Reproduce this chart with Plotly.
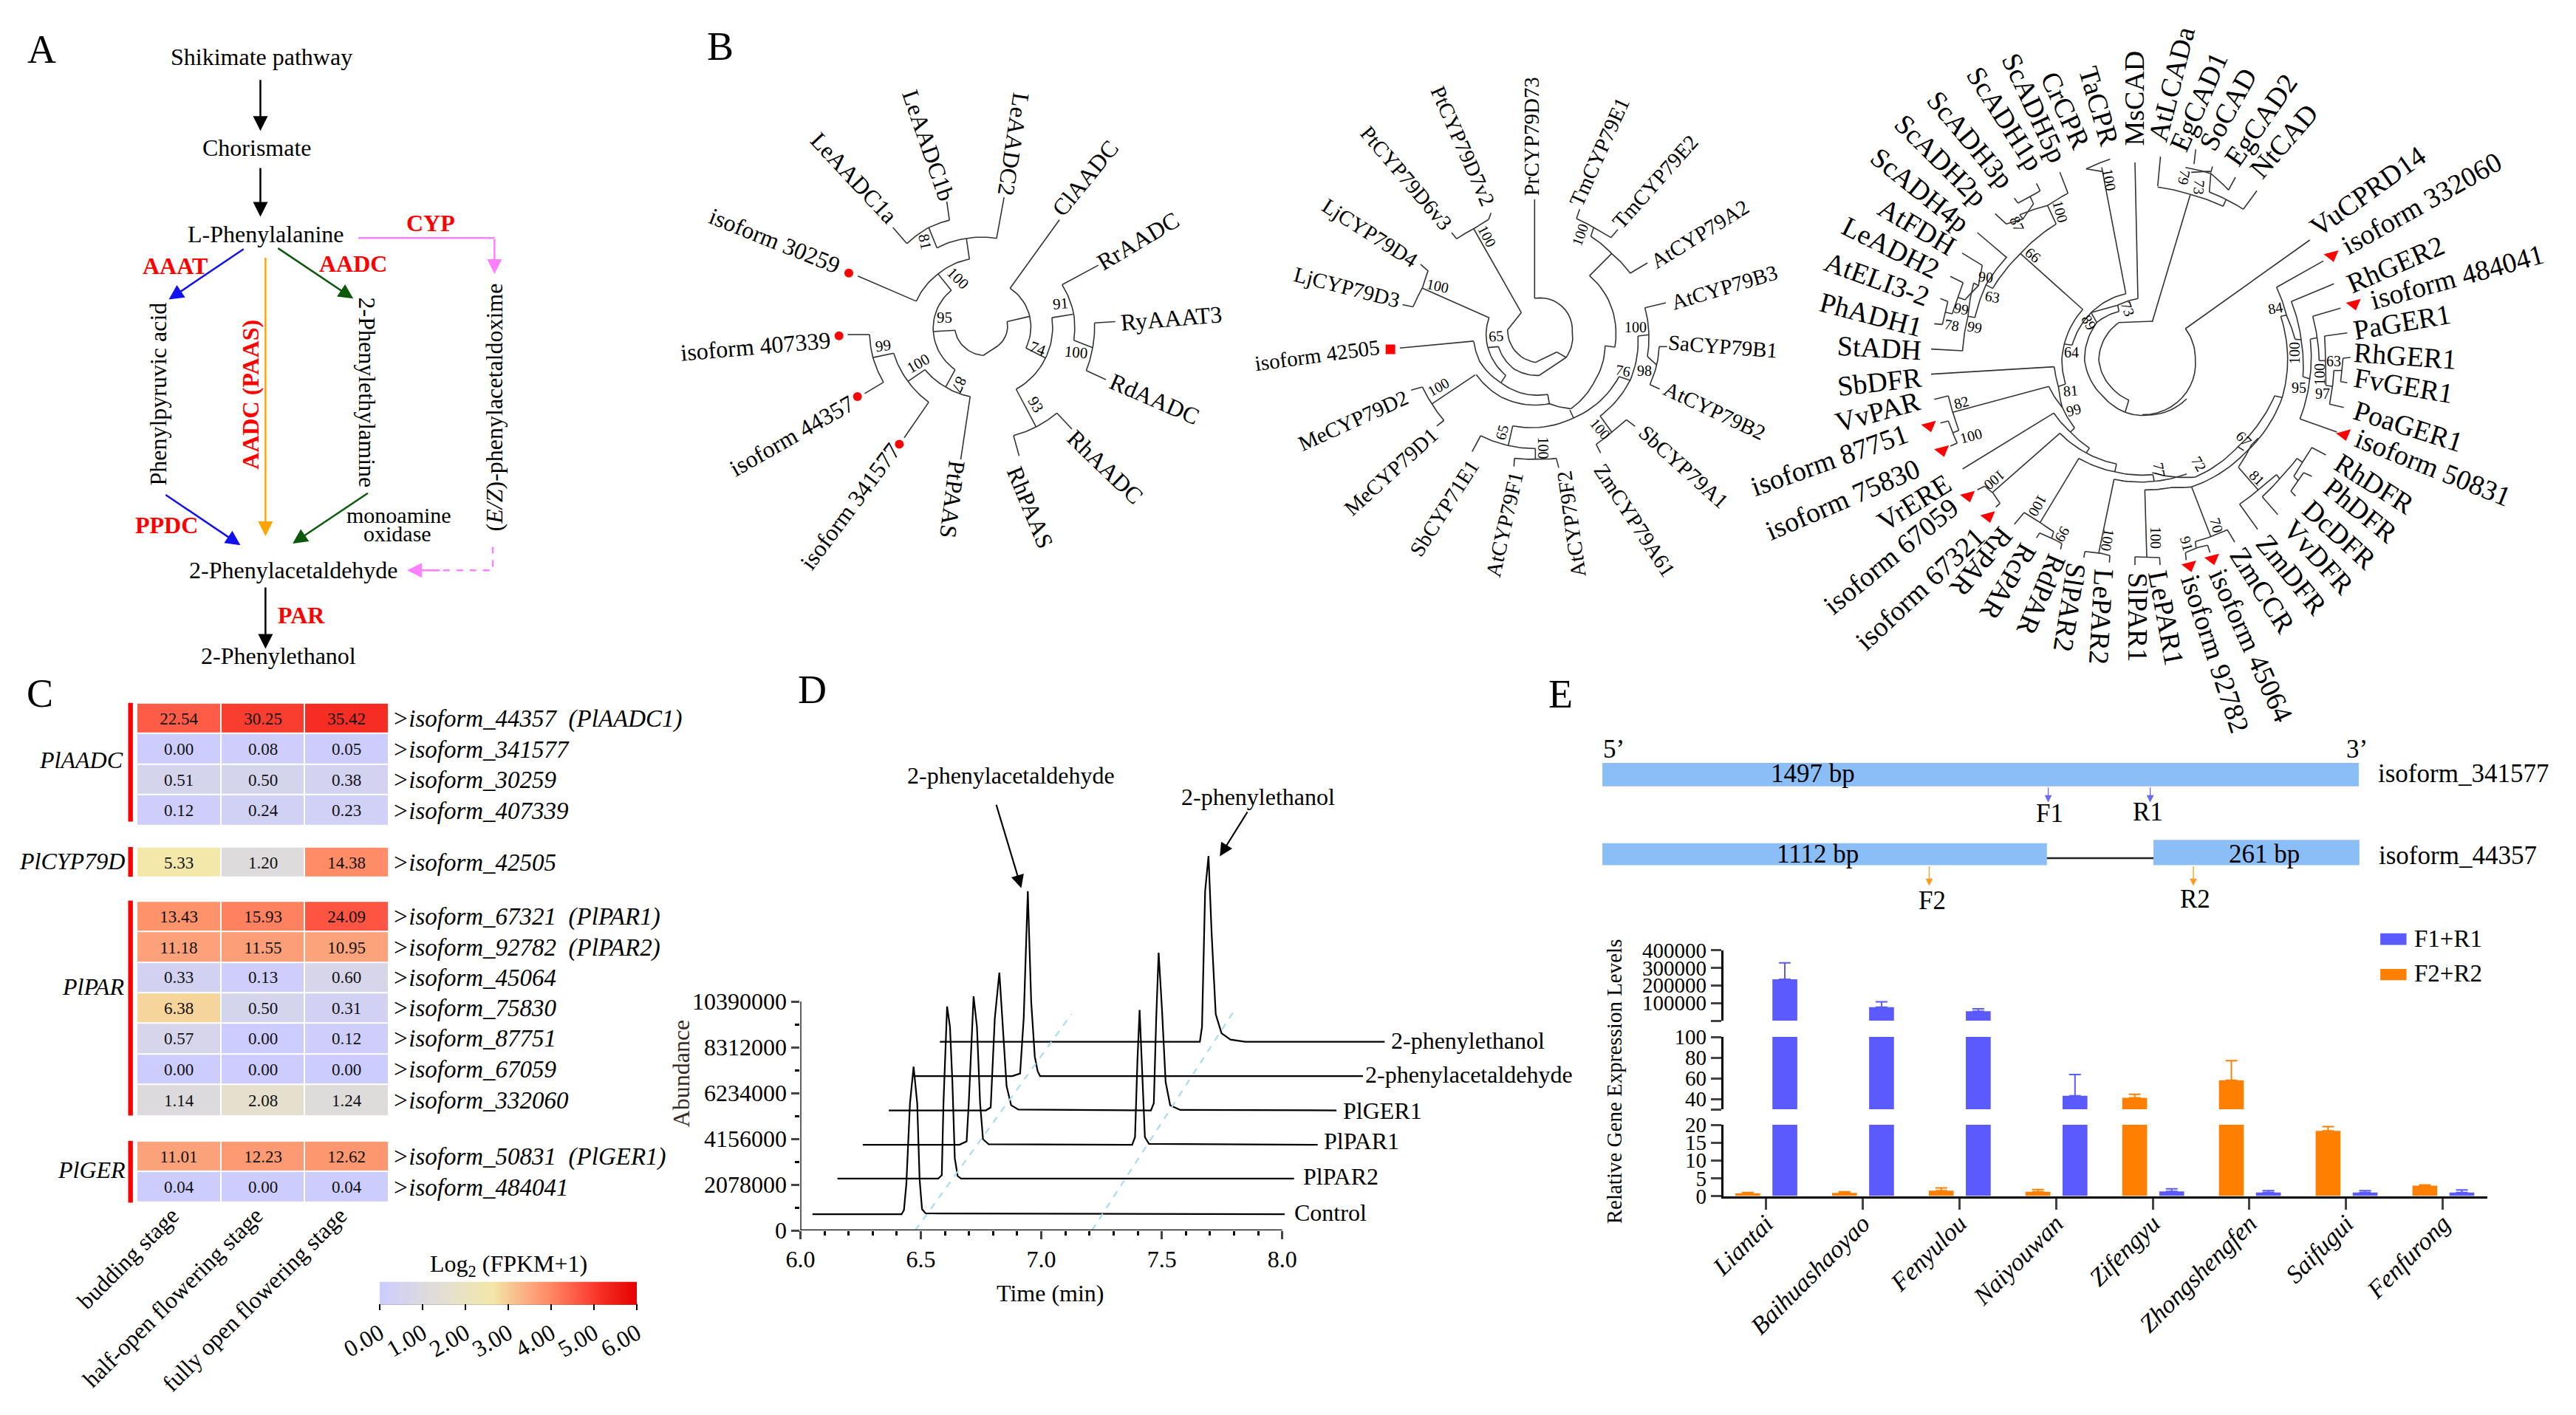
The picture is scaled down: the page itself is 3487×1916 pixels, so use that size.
import math
import plotly.graph_objects as go

FONT = "Liberation Serif"
W, H = 3487, 1916
# reference regions: left, top, x scale, y scale of the readings below
CROPS = {"c1": (0, 0, 1.742, 1.704), "c2": (900, 0, 1.96, 1.704), "c3": (2300, 0, 1.321, 1.508),
         "c4": (0, 900, 1.568, 1.543), "c5": (900, 920, 1.254, 1.742), "c6": (2100, 920, 1.13, 1.574),
         "c7": (1650, 0, 1.96, 1.704), "c8": (2560, 220, 3, 3), "c9": (2900, 220, 3, 3),
         "c10": (2560, 500, 3, 3), "c11": (2900, 500, 3, 3), "c12": (1950, 260, 3, 3)}

def P(c, x, y):
    o = CROPS[c]
    return (o[0] + x / o[2], o[1] + y / o[3])

# ---------- Panel C data ----------
stages = ["budding stage", "half-open flowering stage", "fully open flowering stage"]
aadc_fpkm = [[22.54, 30.25, 35.42], [0.00, 0.08, 0.05], [0.51, 0.50, 0.38], [0.12, 0.24, 0.23]]
cyp_fpkm = [[5.33, 1.20, 14.38]]
par_fpkm = [[13.43, 15.93, 24.09], [11.18, 11.55, 10.95], [0.33, 0.13, 0.60], [6.38, 0.50, 0.31],
            [0.57, 0.00, 0.12], [0.00, 0.00, 0.00], [1.14, 2.08, 1.24]]
ger_fpkm = [[11.01, 12.23, 12.62], [0.04, 0.00, 0.04]]
aadc_rows = [0.5, 1.5, 2.5, 3.5]
cyp_rows = [5.2]
par_rows = [6.97, 7.97, 8.95, 9.95, 10.95, 11.95, 12.97]
ger_rows = [14.8, 15.8]
row_labels = [">isoform_44357  (PlAADC1)", ">isoform_341577", ">isoform_30259", ">isoform_407339",
              ">isoform_42505",
              ">isoform_67321  (PlPAR1)", ">isoform_92782  (PlPAR2)", ">isoform_45064", ">isoform_75830",
              ">isoform_87751", ">isoform_67059", ">isoform_332060",
              ">isoform_50831  (PlGER1)", ">isoform_484041"]
colorbar_ticks = [0, 1, 2, 3, 4, 5, 6]
colorbar_ticktext = ["0.00", "1.00", "2.00", "3.00", "4.00", "5.00", "6.00"]
heat_scale = [[0, "#CCCCFF"], [0.19, "#DEDBDC"], [0.27, "#E5E0CE"], [0.443, "#F3E7A9"], [0.48, "#F5D59B"],
              [0.6, "#FCA17A"], [0.657, "#FF8C66"], [0.76, "#FF5C48"], [0.865, "#F52D22"], [1, "#E60000"]]

# ---------- Panel D data ----------
control_t = [6.05, 6.42, 6.43, 6.44, 6.455, 6.47, 6.485, 6.495, 6.505, 6.52, 8.01]
control_a = [731e3, 731e3, 924e3, 2116e3, 5772e3, 7427e3, 5772e3, 2309e3, 962e3, 770e3, 731e3]
par2_t = [6.154, 6.572, 6.587, 6.594, 6.609, 6.621, 6.631, 6.641, 6.653, 6.667, 8.049]
par2_a = [2347e3, 2347e3, 2501e3, 5772e3, 10159e3, 9235e3, 6734e3, 3271e3, 2463e3, 2347e3, 2347e3]
par1_t = [6.259, 6.66, 6.69, 6.699, 6.719, 6.733, 6.746, 6.758, 6.782, 7.377, 7.389, 7.399, 7.408, 7.42, 7.43, 7.447, 8.147]
par1_a = [3886e3, 3886e3, 4040e3, 5772e3, 10620e3, 9235e3, 5772e3, 4137e3, 3906e3, 3886e3, 4233e3, 7696e3, 10005e3, 6734e3, 4233e3, 3925e3, 3886e3]
ger1_t = [6.367, 6.77, 6.79, 6.807, 6.826, 6.844, 6.856, 6.875, 6.905, 7.455, 7.467, 7.477, 7.487, 7.501, 7.516, 7.535, 7.577, 8.225]
ger1_a = [5445e3, 5445e3, 5580e3, 9620e3, 11698e3, 8658e3, 6542e3, 5676e3, 5483e3, 5445e3, 5772e3, 9620e3, 12602e3, 10005e3, 6734e3, 5676e3, 5464e3, 5445e3]
ald_t = [6.469, 6.88, 6.912, 6.927, 6.944, 6.958, 6.973, 6.985, 6.995, 8.335]
ald_a = [7003e3, 7003e3, 7119e3, 9620e3, 15392e3, 10390e3, 7888e3, 7215e3, 7003e3, 7003e3]
eth_t = [6.579, 7.658, 7.667, 7.68, 7.694, 7.707, 7.724, 7.748, 7.785, 7.846, 8.425]
eth_a = [8562e3, 8562e3, 9235e3, 15392e3, 16989e3, 13468e3, 9812e3, 8947e3, 8658e3, 8562e3, 8562e3]
guide1_t = [6.477, 7.125]
guide1_a = [0, 9812e3]
guide2_t = [7.21, 7.797]
guide2_a = [0, 9909e3]
time_ticks = [6.0, 6.5, 7.0, 7.5, 8.0]
time_minor = [6.1, 6.2, 6.3, 6.4, 6.6, 6.7, 6.8, 6.9, 7.1, 7.2, 7.3, 7.4, 7.6, 7.7, 7.8, 7.9]
abundance_ticks = [0, 2078000, 4156000, 6234000, 8312000, 10390000]
abundance_minor = [1039000, 3117000, 5195000, 7273000, 9351000]

# ---------- Panel E data ----------
cultivars = ["Liantai", "Baihuashaoyao", "Fenyulou", "Naiyouwan", "Zifengyu", "Zhongshengfen", "Saifugui", "Fenfurong"]
f1r1 = [235000, 77000, 53000, 43, 1.3, 1.0, 1.0, 1.0]
f1r1_err = [93000, 30000, 14000, 20.5, 0.7, 0.5, 0.5, 0.7]
f2r2 = [0.8, 0.9, 1.5, 1.2, 41, 58, 18.3, 2.9]
f2r2_err = [0.2, 0.3, 0.8, 0.6, 3.5, 19, 1.2, 0.2]

# ---------- Panel A ----------
pathway_text = [
    ("Shikimate pathway", 617, 131, 32, "black", 0), ("Chorismate", 606, 340, 32, "black", 0),
    ("L-Phenylalanine", 627, 541, 32, "black", 0), ("<b>CYP</b>", 1015, 514, 32, "#FF0000", 0),
    ("<b>AAAT</b>", 413, 613, 32, "#FF0000", 0), ("<b>AADC</b>", 832, 608, 32, "#FF0000", 0),
    ("<b>AADC (PAAS)</b>", 590, 910, 32, "#FF0000", -90), ("Phenylpyruvic acid", 372, 910, 32, "black", -90),
    ("2-Phenylethylamine", 865, 905, 32, "black", 90), ("(<i>E/Z</i>)-phenylacetaldoxime", 1165, 940, 32, "black", -90),
    ("<b>PPDC</b>", 393, 1212, 32, "#FF0000", 0), ("monoamine", 940, 1188, 30, "black", 0), ("oxidase", 938, 1231, 30, "black", 0),
    ("2-Phenylacetaldehyde", 693, 1316, 32, "black", 0), ("<b>PAR</b>", 711, 1420, 32, "#FF0000", 0),
    ("2-Phenylethanol", 657, 1513, 32, "black", 0)]
pathway_arrows = [
    (614, 182, 614, 302, "black"), (614, 385, 614, 500, "black"), (577, 573, 398, 691, "#1010F0"),
    (653, 571, 833, 689, "#0B5A0B"), (626, 592, 626, 1237, "#FFA500"), (388, 1140, 567, 1258, "#1010F0"),
    (870, 1136, 690, 1254, "#0B5A0B"), (626, 1353, 626, 1497, "black"), (1166, 549, 1166, 632, "#FF80FF"),
    (1040, 1316, 960, 1316, "#FF80FF")]
pink_line = [(845, 549), (1166, 549)]
pink_dash = [(1162, 1262), (1162, 1316), (1020, 1316)]

# ---------- Panel B ----------
tree1_labels = [("LeAADC1a", 395, 310, 610, 510), ("LeAADC1b", 650, 210, 750, 460), ("LeAADC2", 945, 220, 905, 445),
    ("ClAADC", 1040, 490, 1190, 330), ("RrAADC", 1150, 610, 1362, 500), ("RyAAAT3", 1205, 745, 1482, 725),
    ("RdAADC", 1180, 875, 1418, 965), ("RhAADC", 1075, 1000, 1260, 1155), ("RhPAAS", 925, 1075, 1015, 1265),
    ("PtPAAS", 775, 1065, 750, 1240), ("isoform 341577", 375, 1305, 610, 1030), ("isoform 44357", 175, 1085, 498, 925),
    ("isoform 407339", 42, 815, 440, 785), ("isoform 30259", 120, 495, 465, 615)]
tree1_paths = [
    [(916, 665), (968, 730), (958, 803)], [(958, 803), (1010, 826)], [(1027, 733), (1010, 826), (932, 898)],
    [(1027, 733), (1083, 725)], [(1054, 657), (1085, 725), (1085, 785)], [(1085, 785), (1135, 802)],
    [(1140, 745), (1135, 802), (1118, 855)], [(1140, 745), (1195, 742)], [(1118, 855), (1170, 876)],
    [(1054, 657), (1150, 612)], [(916, 665), (1047, 507)], [(968, 730), (908, 742)],
    [(908, 742), (880, 800), (845, 820), (800, 805), (770, 762)], [(770, 762), (712, 765)],
    [(932, 898), (985, 985)], [(925, 1005), (985, 985), (1040, 953)], [(925, 1005), (940, 1052)], [(1040, 953), (1080, 990)],
    [(760, 670), (712, 765), (770, 853)], [(760, 670), (725, 632)], [(667, 695), (725, 632), (808, 598)],
    [(667, 695), (512, 637)], [(808, 598), (800, 550)], [(722, 572), (800, 550), (880, 550)], [(880, 550), (900, 455)],
    [(722, 572), (700, 525)], [(642, 562), (700, 525), (755, 508)], [(642, 562), (605, 525)], [(755, 508), (748, 465)],
    [(770, 853), (745, 893)], [(690, 853), (745, 893), (810, 915)], [(810, 915), (785, 1060)], [(690, 853), (645, 880)],
    [(607, 815), (645, 880), (700, 928)], [(700, 928), (635, 1010)], [(607, 815), (552, 825)],
    [(543, 772), (552, 825), (580, 882)], [(543, 772), (485, 772)], [(580, 882), (530, 908)]]
tree1_boot = [("81", 690, 557, 78), ("100", 778, 642, 45), ("95", 742, 733, 0), ("99", 580, 798, -8), ("100", 672, 838, -30),
    ("87", 780, 888, 115), ("74", 990, 805, 20), ("91", 1050, 700, -5), ("100", 1092, 812, 5), ("93", 985, 933, 60)]
tree1_dots = [(488, 630), (462, 775), (511, 915), (622, 1025)]

tree2_labels = [("PtCYP79D7v2", 575, 195, 720, 480), ("PtCYP79D6v3", 380, 290, 615, 530), ("LjCYP79D4", 270, 465, 530, 610),
    ("LjCYP79D3", 195, 630, 485, 695), ("isoform 42505", 90, 840, 430, 800), ("MeCYP79D2", 205, 1030, 510, 910),
    ("MeCYP79D1", 335, 1185, 580, 990), ("SbCYP71E1", 515, 1285, 680, 1060), ("AtCYP79F1", 725, 1335, 790, 1085),
    ("AtCYP79F2", 955, 1335, 915, 1085), ("ZmCYP79A61", 1005, 1070, 1200, 1330), ("SbCYP79A1", 1115, 985, 1350, 1170),
    ("AtCYP79B2", 1175, 890, 1455, 1005), ("SaCYP79B1", 1190, 790, 1485, 810), ("AtCYP79B3", 1197, 700, 1485, 625),
    ("AtCYP79A2", 1145, 610, 1405, 470), ("TmCYP79E2", 1050, 525, 1265, 315), ("TmCYP79E1", 945, 475, 1075, 225),
    ("PrCYP79D73", 828, 455, 828, 175)]
tree2_core = [
    [(382, 30), (382, 432)], [(382, 432), (535, 570), (510, 672)], [(510, 672), (472, 650)],
    [(472, 650), (385, 692), (272, 560), (328, 490)], [(328, 490), (135, 150)], [(65, 190), (135, 150), (195, 112)],
    [(65, 190), (45, 165)], [(195, 112), (205, 85)], [(197, 510), (185, 570), (192, 632)], [(192, 632), (235, 628)],
    [(235, 628), (300, 720), (400, 745), (510, 672)], [(192, 632), (265, 745)], [(265, 745), (245, 775)],
    [(135, 607), (160, 690), (245, 775)], [(245, 775), (340, 820), (435, 822)], [(435, 822), (442, 860)],
    [(145, 742), (250, 835), (442, 860), (530, 880)], [(530, 880), (625, 770), (668, 625)], [(668, 625), (708, 630)],
    [(605, 340), (712, 560), (708, 630)], [(605, 340), (695, 250)], [(610, 180), (695, 250), (770, 330)],
    [(770, 330), (840, 288)], [(610, 180), (622, 145)], [(552, 108), (622, 145), (692, 185)], [(552, 108), (565, 70)],
    [(692, 185), (720, 152)], [(525, 885), (540, 918)], [(293, 950), (540, 918), (725, 750)], [(725, 750), (770, 765)],
    [(802, 585), (770, 765), (648, 910)], [(802, 585), (846, 580)], [(830, 470), (846, 580), (840, 668)], [(830, 470), (915, 450)],
    [(840, 668), (878, 703)], [(888, 628), (878, 703), (850, 782)], [(888, 628), (920, 628)], [(850, 782), (890, 800)],
    [(648, 910), (695, 975)], [(632, 1025), (695, 975), (755, 925)], [(632, 1025), (650, 1060)], [(755, 925), (790, 952)],
    [(293, 950), (275, 1030)], [(163, 990), (275, 1030), (385, 1042)], [(163, 990), (128, 1055)], [(385, 1042), (385, 1085)],
    [(300, 1082), (385, 1085), (470, 1082)], [(300, 1082), (298, 1115)], [(470, 1082), (480, 1120)]]
tree2_outer = [
    [(717, 733), (540, 665)], [(515, 708), (540, 665), (555, 625)], [(515, 708), (487, 703)], [(555, 625), (535, 610)],
    [(676, 787), (480, 803)], [(680, 865), (565, 932)], [(540, 893), (565, 932), (597, 970)], [(540, 893), (510, 900)],
    [(597, 970), (578, 983)]]
tree2_boot = [("100", 712, 545, 62), ("100", 580, 660, 12), ("65", 735, 775, -5), ("100", 958, 542, -70), ("100", 1105, 755, 0),
    ("76", 1073, 855, 10), ("98", 1128, 855, 0), ("100", 1012, 990, 50), ("100", 860, 1033, 90), ("65", 750, 998, -75), ("100", 582, 893, -30)]
tree2_square = [(455, 806)]

tree3_labels = [("ScADH5p", 555, 110, 645, 330), ("ScADH1p", 490, 140, 605, 345), ("ScADH3p", 415, 190, 555, 380),
    ("ScADH2p", 355, 240, 510, 415), ("ScADH4p", 310, 310, 480, 465), ("AtFDH", 320, 415, 460, 510), ("LeADH2", 255, 455, 430, 555),
    ("AtELI3-2", 222, 530, 415, 610), ("PhADH1", 215, 615, 400, 670), ("StADH", 245, 705, 400, 715), ("SbDFR", 245, 790, 400, 770),
    ("VvPAR", 240, 865, 400, 815), ("isoform 87751", 85, 1000, 380, 880), ("isoform 75830", 115, 1090, 400, 950),
    ("VrERE", 315, 1075, 455, 975), ("isoform 67059", 220, 1250, 465, 1020), ("isoform 67321", 285, 1320, 505, 1085),
    ("RrPAR", 550, 1085, 460, 1210), ("RcPAR", 590, 1115, 515, 1260), ("RdPAR", 640, 1140, 585, 1290), ("SlPAR2", 675, 1150, 650, 1330),
    ("LePAR2", 725, 1165, 715, 1355), ("SlPAR1", 785, 1170, 785, 1350), ("LePAR1", 820, 1170, 850, 1355),
    ("isoform 92782", 875, 1170, 970, 1500), ("isoform 45064", 925, 1160, 1050, 1475), ("ZmCCR", 960, 1120, 1055, 1290),
    ("ZmDFR", 1005, 1095, 1115, 1250), ("VvDFR", 1050, 1065, 1165, 1210), ("DcDFR", 1085, 1030, 1205, 1155), ("PhDFR", 1120, 985, 1245, 1100),
    ("RhDFR", 1135, 935, 1280, 1040), ("isoform 50831", 1170, 890, 1455, 1020), ("PoaGER1", 1170, 835, 1365, 905), ("FvGER1", 1170, 770, 1350, 805),
    ("RhGER1", 1170, 720, 1355, 735), ("PaGER1", 1170, 675, 1345, 640), ("isoform 484041", 1195, 615, 1515, 515), ("RhGER2", 1155, 585, 1335, 495),
    ("isoform 332060", 1145, 510, 1440, 320), ("VuCPRD14", 1090, 475, 1300, 305), ("NtCAD", 990, 360, 1100, 215), ("EgCAD2", 950, 335, 1060, 155),
    ("SoCAD", 905, 305, 985, 140), ("EgCAD1", 855, 305, 930, 110), ("AtLCADa", 820, 285, 870, 60), ("MsCAD", 778, 295, 778, 105),
    ("TaCPR", 695, 140, 735, 295), ("CrCPR", 625, 150, 685, 300)]
tree3_paths = [
    ("c9", [(175, 675), (680, 315)]), ("c9", [(175, 675), (215, 800), (0, 1025)]),
    ("c8", [(1060, 645), (925, 650), (843, 800), (900, 920), (965, 965)]), ("c8", [(965, 965), (950, 1015)]),
    ("c8", [(950, 1015), (1060, 1025), (1200, 960)]), ("c9", [(40, 648), (195, 130)]),
    ("c9", [(62, 100), (195, 130), (328, 178)]), ("c9", [(272, 120), (340, 150), (410, 190)]), ("c9", [(328, 178), (340, 150)]),
    ("c9", [(410, 190), (465, 115)]), ("c9", [(272, 120), (278, 45)]), ("c9", [(175, 20), (278, 45), (350, 112)]),
    ("c9", [(350, 112), (378, 60)]), ("c3", [(820, 380), (825, 320)]), ("c3", [(880, 352), (915, 350)]), ("c3", [(915, 352), (918, 340)]),
    ("c3", [(885, 335), (888, 305)]),
    ("c8", [(925, 605), (835, 650), (785, 800), (860, 950), (950, 1015)]), ("c8", [(920, 580), (925, 605)]),
    ("c8", [(1002, 553), (920, 580), (812, 610)]), ("c8", [(812, 610), (835, 650)]), ("c8", [(1002, 553), (990, 0)]),
    ("c8", [(953, 533), (810, 612), (735, 742)]), ("c8", [(953, 533), (855, 20)]), ("c8", [(735, 742), (705, 738)]),
    ("c3", [(720, 350), (692, 345)]), ("c3", [(692, 345), (735, 325)]),
    ("c8", [(778, 597), (693, 800), (708, 900)]), ("c8", [(778, 597), (525, 370)]), ("c8", [(708, 900), (680, 910)]),
    ("c8", [(662, 830), (680, 910), (695, 995)]), ("c8", [(662, 830), (162, 860)]),
    ("c8", [(640, 910), (695, 995), (745, 1078)]), ("c8", [(640, 910), (250, 1015)]), ("c8", [(745, 1078), (728, 1095)]),
    ("c8", [(660, 1018), (728, 1095), (805, 1160)]), ("c10", [(660, 178), (290, 405)]), ("c10", [(805, 320), (792, 340)]),
    ("c10", [(685, 260), (792, 340), (915, 385)]), ("c10", [(685, 260), (412, 500)]), ("c10", [(915, 385), (908, 417)]),
    ("c10", [(762, 362), (908, 417), (1063, 428)]), ("c10", [(762, 362), (605, 622)]), ("c10", [(1063, 428), (1068, 455)]),
    ("c10", [(905, 447), (1068, 455), (1200, 425)]), ("c11", [(40, 420), (215, 438)]), ("c10", [(905, 447), (843, 745)]),
    ("c11", [(215, 438), (388, 315)]), ("c11", [(388, 315), (412, 330)]), ("c11", [(388, 315), (480, 210), (537, 108)]),
    ("c11", [(537, 108), (568, 115)]), ("c11", [(10, 490), (120, 480), (200, 478)]), ("c11", [(10, 490), (18, 765)]),
    ("c11", [(200, 478), (412, 345), (568, 115)]), ("c9", [(568, 955), (590, 810), (562, 625)]), ("c9", [(562, 625), (585, 620)]),
    ("c11", [(200, 478), (278, 680)]), ("c11", [(215, 700), (278, 680), (345, 652)]), ("c11", [(345, 652), (375, 702)]),
    ("c11", [(215, 700), (218, 725)]), ("c11", [(175, 745), (218, 725), (265, 715)]), ("c11", [(175, 745), (178, 775)]), ("c11", [(265, 715), (275, 745)]),
    ("c11", [(390, 398), (440, 310), (470, 280)]), ("c11", [(390, 398), (470, 490)]),
    ("c11", [(395, 548), (470, 490), (545, 428)]), ("c11", [(395, 548), (468, 650)]), ("c11", [(545, 428), (557, 445)]),
    ("c11", [(487, 518), (557, 445), (628, 362)]), ("c11", [(487, 518), (550, 590)]), ("c11", [(628, 362), (650, 378)]),
    ("c11", [(615, 435), (650, 378), (688, 318)]), ("c11", [(688, 318), (745, 348)]), ("c11", [(615, 435), (632, 452)]),
    ("c11", [(603, 495), (632, 452), (655, 420)]), ("c11", [(603, 495), (622, 515)]), ("c11", [(655, 420), (688, 435)]),
    ("c10", [(990, 762), (1040, 762), (1090, 765)]), ("c10", [(990, 762), (990, 795)]), ("c10", [(1090, 765), (1092, 795)]),
    ("c10", [(787, 740), (843, 745), (888, 757)]), ("c10", [(787, 740), (782, 765)]), ("c10", [(888, 757), (886, 785)]),
    ("c10", [(540, 582), (605, 622), (660, 660)]), ("c10", [(540, 582), (500, 630)]), ("c10", [(660, 660), (652, 685)]),
    ("c10", [(603, 665), (652, 685), (693, 708)]), ("c10", [(603, 665), (590, 685)]), ("c10", [(693, 708), (688, 732)]),
    ("c10", [(380, 475), (412, 500), (442, 545)]), ("c10", [(380, 475), (350, 490)]), ("c10", [(442, 545), (425, 560)]),
    ("c8", [(232, 948), (250, 1015), (275, 1088)]), ("c8", [(232, 948), (175, 962)]), ("c8", [(275, 1088), (250, 1098)]),
    ("c8", [(232, 1050), (250, 1098), (268, 1140)]), ("c8", [(232, 1050), (200, 1058)]), ("c8", [(268, 1140), (240, 1152)]),
    ("c9", [(545, 507), (585, 620), (620, 718)]), ("c9", [(545, 507), (735, 400)]), ("c9", [(620, 718), (645, 720)]),
    ("c9", [(605, 565), (645, 720), (652, 870)]), ("c9", [(605, 565), (778, 493)]), ("c9", [(652, 870), (682, 880)]),
    ("c9", [(682, 718), (680, 880), (640, 1042)]), ("c9", [(640, 1042), (790, 1095)]), ("c9", [(682, 718), (710, 712)]),
    ("c9", [(692, 625), (710, 712), (718, 805)]), ("c9", [(692, 625), (805, 592)]), ("c9", [(718, 805), (742, 805)]),
    ("c9", [(740, 705), (742, 805), (745, 905)]), ("c9", [(740, 705), (832, 692)]), ("c9", [(745, 905), (772, 910)]),
    ("c9", [(778, 845), (772, 910), (760, 982)]), ("c9", [(760, 982), (818, 995)]), ("c9", [(778, 845), (810, 845)]),
    ("c9", [(815, 795), (810, 845), (805, 890)]), ("c9", [(815, 795), (845, 792)]), ("c9", [(805, 890), (832, 895)]),
    ("c8", [(670, 250), (635, 175)]), ("c8", [(525, 370), (670, 250)]), ("c8", [(522, 212), (635, 175), (718, 125)]), ("c8", [(718, 125), (685, 40)]),
    ("c8", [(522, 212), (535, 230)]), ("c8", [(468, 250), (535, 230), (578, 168)]), ("c8", [(468, 250), (422, 208)]), ("c8", [(578, 168), (565, 140)]),
    ("c8", [(515, 165), (565, 140), (605, 115)]), ("c8", [(515, 165), (500, 145)]), ("c8", [(605, 115), (590, 85)]),
    ("c8", [(468, 385), (350, 285)]), ("c8", [(525, 370), (412, 512)]), ("c8", [(412, 512), (385, 497)]), ("c8", [(470, 383), (385, 497), (340, 630)]),
    ("c8", [(340, 630), (312, 625)]), ("c8", [(335, 490), (312, 625), (290, 765)]), ("c8", [(290, 765), (162, 758)]), ("c8", [(335, 490), (355, 500)]),
    ("c8", [(370, 418), (355, 500), (300, 558)]), ("c8", [(370, 418), (288, 368)]), ("c8", [(300, 558), (272, 548)]),
    ("c8", [(292, 488), (272, 548), (248, 615)]), ("c8", [(292, 488), (240, 463)]), ("c8", [(248, 615), (220, 608)]),
    ("c8", [(230, 565), (220, 608), (208, 658)]), ("c8", [(230, 565), (200, 553)]), ("c8", [(208, 658), (175, 655)])]
tree3_boot = [("c8", "100", 688, 200, 75), ("c8", "87", 510, 250, 65), ("c8", "66", 575, 375, 40), ("c8", "90", 385, 465, 5), ("c8", "63", 412, 545, 10),
    ("c8", "99", 285, 595, 10), ("c8", "78", 245, 660, 10), ("c8", "99", 340, 668, 10), ("c8", "73", 960, 595, 70), ("c8", "89", 805, 650, 60),
    ("c8", "64", 733, 770, 0), ("c8", "81", 730, 928, -5), ("c8", "99", 740, 1005, -15), ("c8", "82", 285, 975, -15), ("c8", "100", 325, 1110, -15),
    ("c8", "100", 885, 70, 80), ("c10", "100", 420, 450, 140), ("c10", "100", 595, 555, 120), ("c10", "99", 695, 670, 120), ("c10", "100", 880, 695, 100),
    ("c10", "100", 1072, 685, 90), ("c10", "77", 1090, 410, 80), ("c11", "67", 412, 283, 45), ("c11", "72", 230, 383, 60), ("c11", "81", 465, 442, 45),
    ("c11", "70", 302, 632, 75), ("c11", "91", 180, 708, 75), ("c9", "84", 540, 590, -10), ("c9", "100", 620, 775, -90), ("c9", "95", 635, 915, 0),
    ("c9", "100", 718, 860, -90), ("c9", "63", 778, 808, 0), ("c9", "97", 733, 940, 0), ("c9", "79", 170, 60, 100), ("c9", "73", 230, 100, 95)]
tree3_triangles = [("c9", 770, 378), ("c9", 860, 575), ("c9", 820, 1105), ("c8", 155, 1070), ("c8", 208, 1170),
                   ("c10", 313, 515), ("c10", 395, 598), ("c11", 285, 770), ("c11", 192, 798)]
TREE_CENTERS = {1: (1331, 441), 2: (2085, 447), 3: (2906, 487)}

# ---------- Panel E gene models ----------
gene_blocks = [(78, 1235, 178, 228), (78, 758, 349, 396), (921, 1236, 342, 396)]
gene_link = [(758, 381), (921, 381)]
gene_text = [("1497 bp", 400, 200), ("1112 bp", 407, 372), ("261 bp", 1090, 372), ("5’", 95, 148), ("3’", 1232, 148),
             ("isoform_341577", 1395, 200), ("isoform_44357", 1387, 376), ("F1", 762, 285), ("R1", 913, 282), ("F2", 582, 472), ("R2", 985, 468)]
gene_arrows = [(760, 228, 760, 262, "#6A6AF5"), (916, 228, 916, 262, "#6A6AF5"), (578, 396, 578, 440, "#FF9A1F"), (982, 396, 982, 440, "#FF9A1F")]

# ============ build ============
fig = go.Figure()
anns, shapes = [], []

def text(t, x, y, size=32, color="black", angle=0, xanchor="center"):
    anns.append(dict(text=t, x=x, y=y, xref="x", yref="y", showarrow=False, textangle=angle, xanchor=xanchor, yanchor="middle",
                     font=dict(family=FONT, size=size, color=color)))

def arrow(x0, y0, x1, y1, color, width=2.5, size=1.6):
    anns.append(dict(text="", x=x1, y=y1, ax=x0, ay=y0, xref="x", yref="y", axref="x", ayref="y", showarrow=True,
                     arrowhead=2, arrowsize=size, arrowwidth=width, arrowcolor=color, standoff=0))

def polar_path(pts, center):
    cx, cy = center
    out = [pts[0]]
    for (x0, y0), (x1, y1) in zip(pts[:-1], pts[1:]):
        r0, r1 = math.hypot(x0 - cx, y0 - cy), math.hypot(x1 - cx, y1 - cy)
        if abs(r0 - r1) < 0.15 * max(r0, r1):
            a0, a1 = math.atan2(y0 - cy, x0 - cx), math.atan2(y1 - cy, x1 - cx)
            d = (a1 - a0 + math.pi) % (2 * math.pi) - math.pi
            for i in range(1, 13):
                f = i / 12
                r = r0 + (r1 - r0) * f
                out.append((cx + r * math.cos(a0 + d * f), cy + r * math.sin(a0 + d * f)))
        else:
            out.append((x1, y1))
    return out

def add_tree(paths, center):
    xs, ys = [], []
    for crop, pts in paths:
        for x, y in polar_path([P(crop, a, b) for a, b in pts], center):
            xs.append(x); ys.append(y)
        xs.append(None); ys.append(None)
    fig.add_trace(go.Scatter(x=xs, y=ys, mode="lines", line=dict(color="#333333", width=1.6), hoverinfo="skip",
                             showlegend=False, xaxis="x", yaxis="y"))

def add_labels(crop, labels, size):
    for t, x0, y0, x1, y1 in labels:
        a, b = P(crop, x0, y0), P(crop, x1, y1)
        ang = math.degrees(math.atan2(b[1] - a[1], b[0] - a[0]))
        text(t, (a[0] + b[0]) / 2, (a[1] + b[1]) / 2, size, "black", ang)

# panel letters
for t, c, x, y in [("A", "c1", 98, 115), ("B", "c2", 147, 108), ("C", "c4", 85, 60), ("D", "c5", 250, 25), ("E", "c6", 14, 32)]:
    px = P(c, x, y)
    text(t, px[0], px[1], 54)

# A
for t, x, y, s, col, ang in pathway_text:
    px = P("c1", x, y)
    text(t, px[0], px[1], s, col, ang)
for x0, y0, x1, y1, col in pathway_arrows:
    a, b = P("c1", x0, y0), P("c1", x1, y1)
    arrow(a[0], a[1], b[0], b[1], col)
for pts, dash in [(pink_line, "solid"), (pink_dash, "dash")]:
    q = [P("c1", *p) for p in pts]
    fig.add_trace(go.Scatter(x=[p[0] for p in q], y=[p[1] for p in q], mode="lines", line=dict(color="#FF80FF", width=2.5, dash=dash),
                             hoverinfo="skip", showlegend=False, xaxis="x", yaxis="y"))

# B
add_tree([("c2", p) for p in tree1_paths], TREE_CENTERS[1])
add_labels("c2", tree1_labels, 32)
for t, x, y, ang in tree1_boot:
    px = P("c2", x, y); text(t, px[0], px[1], 21, "black", ang)
d = [P("c2", *p) for p in tree1_dots]
fig.add_trace(go.Scatter(x=[p[0] for p in d], y=[p[1] for p in d], mode="markers", marker=dict(color="#FF0000", size=12), showlegend=False, xaxis="x", yaxis="y"))

add_tree([("c12", p) for p in tree2_core] + [("c7", p) for p in tree2_outer], TREE_CENTERS[2])
add_labels("c7", tree2_labels, 29)
for t, x, y, ang in tree2_boot:
    px = P("c7", x, y); text(t, px[0], px[1], 20, "black", ang)
d = [P("c7", *p) for p in tree2_square]
fig.add_trace(go.Scatter(x=[p[0] for p in d], y=[p[1] for p in d], mode="markers", marker=dict(color="#FF0000", size=13, symbol="square"), showlegend=False, xaxis="x", yaxis="y"))

add_tree(tree3_paths, TREE_CENTERS[3])
add_labels("c3", tree3_labels, 38)
for c, t, x, y, ang in tree3_boot:
    px = P(c, x, y); text(t, px[0], px[1], 20, "black", ang)
d = [P(c, x, y) for c, x, y in tree3_triangles]
fig.add_trace(go.Scatter(x=[p[0] for p in d], y=[p[1] for p in d], mode="markers",
                         marker=dict(color="#FF0000", size=18, symbol="triangle-down", angle=-15), showlegend=False, xaxis="x", yaxis="y"))

# C heatmaps
def log2p1(rows):
    return [[math.log2(v + 1) for v in r] for r in rows]
for rows, ypos in [(aadc_fpkm, aadc_rows), (cyp_fpkm, cyp_rows), (par_fpkm, par_rows), (ger_fpkm, ger_rows)]:
    fig.add_trace(go.Heatmap(z=log2p1(rows), x=[0, 1, 2], y=ypos, coloraxis="coloraxis", xgap=2, ygap=2,
                             text=[[f"{v:.2f}" for v in r] for r in rows], texttemplate="%{text}",
                             textfont=dict(family=FONT, size=23, color="#111111"), xaxis="x2", yaxis="y2", hoverinfo="skip"))
for t, x, y in [("PlAADC", 172, 199), ("PlCYP79D", 153, 411), ("PlPAR", 197, 673), ("PlGER", 195, 1055)]:
    px = P("c4", x, y); text(f"<i>{t}</i>", px[0], px[1], 32)
for y0, y1 in [(80, 328), (381, 443), (493, 942), (995, 1124)]:
    a, b = P("c4", 272, y0), P("c4", 282, y1)
    shapes.append(dict(type="rect", x0=a[0], x1=b[0], y0=a[1], y1=b[1], xref="x", yref="y", fillcolor="#FF0000", line=dict(width=0)))
px = P("c4", 1080, 1255); text("Log<sub>2</sub> (FPKM+1)", px[0], px[1], 32)
a, b = P("c4", 806, 1335), P("c4", 1352, 1335)
shapes.append(dict(type="line", x0=a[0], x1=b[0], y0=a[1], y1=b[1], xref="x", yref="y", line=dict(color="black", width=2.5)))

# D
for t, a_, name in [(control_t, control_a, "Control"), (par2_t, par2_a, "PlPAR2"), (par1_t, par1_a, "PlPAR1"),
                    (ger1_t, ger1_a, "PlGER1"), (ald_t, ald_a, "2-phenylacetaldehyde"), (eth_t, eth_a, "2-phenylethanol")]:
    fig.add_trace(go.Scatter(x=t, y=a_, mode="lines", name=name, line=dict(color="black", width=2.2),
                             showlegend=False, xaxis="x3", yaxis="y3", hoverinfo="skip"))
for t, a_ in [(guide1_t, guide1_a), (guide2_t, guide2_a)]:
    fig.add_trace(go.Scatter(x=t, y=a_, mode="lines", line=dict(color="#A8DCF5", width=2.2, dash="dash"),
                             showlegend=False, xaxis="x3", yaxis="y3", hoverinfo="skip"))
shapes.append(dict(type="line", xref="x3", yref="y3", x0=6, x1=8, y0=0, y1=0, line=dict(color="black", width=2.5)))
shapes.append(dict(type="line", xref="x3", yref="y3", x0=6, x1=6, y0=0, y1=10390000, line=dict(color="black", width=2.5)))
for t, x, y in [("2-phenylethanol", 1363, 851), ("2-phenylacetaldehyde", 1365, 932), ("PlGER1", 1218, 1017), ("PlPAR1", 1182, 1089),
                ("PlPAR2", 1147, 1173), ("Control", 1130, 1257), ("2-phenylacetaldehyde", 588, 226), ("2-phenylethanol", 1007, 277),
                ("Time (min)", 655, 1447)]:
    px = P("c5", x, y); text(t, px[0], px[1], 32)
px = P("c5", 27, 930); text("Abundance", px[0], px[1], 32, "#3A2A24", -90)
for x0, y0, x1, y1 in [(562, 293, 605, 492), (990, 310, 942, 417)]:
    a, b = P("c5", x0, y0), P("c5", x1, y1)
    arrow(a[0], a[1], b[0], b[1], "black", 2.2)

# E bars: each broken-axis segment shows the values that reach it
def segment(values, errors, low):
    return [v if v >= low else None for v in values], [e if v >= low else 0 for v, e in zip(values, errors)]
for ax_x, ax_y, low in [("x4", "y4", 0), ("x5", "y5", 30), ("x6", "y6", 1000)]:
    ys, es = segment(f2r2, f2r2_err, low)
    fig.add_trace(go.Bar(x=cultivars, y=ys, width=0.257, offset=-0.315, marker=dict(color="#FF8000", line=dict(width=0)),
                         error_y=dict(type="data", symmetric=False, array=es, arrayminus=[0] * 8, color="#FF8000", thickness=2, width=8),
                         name="F2+R2", showlegend=False, xaxis=ax_x, yaxis=ax_y, hoverinfo="skip"))
    ys, es = segment(f1r1, f1r1_err, low)
    fig.add_trace(go.Bar(x=cultivars, y=ys, width=0.257, offset=0.068, marker=dict(color="#5A5AFF", line=dict(width=0)),
                         error_y=dict(type="data", symmetric=False, array=es, arrayminus=[0] * 8, color="#5A5AFF", thickness=2, width=8),
                         name="F1+R1", showlegend=False, xaxis=ax_x, yaxis=ax_y, hoverinfo="skip"))
for x0, x1, y0, y1 in gene_blocks:
    a, b = P("c6", x0, y0), P("c6", x1, y1)
    shapes.append(dict(type="rect", x0=a[0], x1=b[0], y0=a[1], y1=b[1], xref="x", yref="y", fillcolor="#8BBEF7", line=dict(width=0)))
a, b = P("c6", *gene_link[0]), P("c6", *gene_link[1])
shapes.append(dict(type="line", x0=a[0], x1=b[0], y0=a[1], y1=b[1], xref="x", yref="y", line=dict(color="#222222", width=2.5)))
for t, x, y in gene_text:
    px = P("c6", x, y)
    text(t, px[0], px[1], 35)
for x0, y0, x1, y1, col in gene_arrows:
    a, b = P("c6", x0, y0), P("c6", x1, y1)
    arrow(a[0], a[1], b[0], b[1], col, 1.3, 1.5)
px = P("c6", 97, 857); text("Relative Gene Expression Levels", px[0], px[1], 29, "black", -90)
for y, col, t, ty in [((541, 566), "#5A5AFF", "F1+R1", 552), ((617, 641), "#FF8000", "F2+R2", 627)]:
    a, b = P("c6", 1268, y[0]), P("c6", 1308, y[1])
    shapes.append(dict(type="rect", x0=a[0], x1=b[0], y0=a[1], y1=b[1], xref="x", yref="y", fillcolor=col, line=dict(width=0)))
    px = P("c6", 1318, ty); text(t, px[0], px[1], 33, xanchor="left")

def dom(a, b, total):
    return [a / total, b / total]
def ydom(top, bottom):
    return [1 - bottom / H, 1 - top / H]

tick = dict(family=FONT, size=32, color="black")
axis_common = dict(showgrid=False, zeroline=False)
row_pos = aadc_rows + cyp_rows + par_rows + ger_rows
# chromatogram axes reach past the ticked range so the peaks and traces stay visible
D_X0, D_PX_PER_MIN = 1083.4, 326.15
D_Y0, D_PX_PER_UNIT = 1666, 310 / 10390000
fig.update_layout(
    width=W, height=H, margin=dict(l=0, r=0, t=0, b=0, autoexpand=False), paper_bgcolor="white", plot_bgcolor="rgba(0,0,0,0)",
    showlegend=False, barmode="overlay", annotations=anns, shapes=shapes,
    font=dict(family=FONT),
    coloraxis=dict(cmin=0, cmax=6, colorscale=heat_scale,
                   colorbar=dict(orientation="h", lenmode="pixels", len=348, thicknessmode="pixels", thickness=31,
                                 x=688 / W, xanchor="center", y=1 - 1845 / H, yanchor="bottom", outlinewidth=0, xpad=0, ypad=0,
                                 tickvals=colorbar_ticks, ticktext=colorbar_ticktext, tickangle=-30, ticks="outside", ticklen=8,
                                 tickcolor="black", tickwidth=2, tickfont=tick)),
    xaxis=dict(domain=[0, 1], range=[0, W], visible=False),
    yaxis=dict(domain=[0, 1], range=[H, 0], visible=False),
    xaxis2=dict(domain=dom(185, 526, W), range=[-0.5, 2.5], anchor="y2", tickvals=[0, 1, 2], ticktext=stages, tickangle=-45,
                tickfont=tick, ticks="", showline=False, ticklabelshift=-9, ticklabelstandoff=-8, **axis_common),
    yaxis2=dict(domain=ydom(951.8, 1627.8), range=[16.3, 0], anchor="x2", side="right", tickvals=row_pos,
                ticktext=["<i>" + s.replace(">", "&gt;").replace("  ", "&nbsp;&nbsp;") + "</i>" for s in row_labels],
                tickfont=dict(family=FONT, size=33, color="black"), ticks="", ticklabelstandoff=4, showline=False, **axis_common),
    xaxis3=dict(domain=dom(D_X0, D_X0 + 2.5 * D_PX_PER_MIN, W), range=[6, 8.5], anchor="y3", tickvals=time_ticks, ticktext=["6.0", "6.5", "7.0", "7.5", "8.0"],
                ticks="outside", ticklen=11, tickwidth=2.5, showline=False, tickfont=tick,
                minor=dict(tickmode="array", tickvals=time_minor, ticks="outside", ticklen=6, tickcolor="black"), **axis_common),
    yaxis3=dict(domain=ydom(D_Y0 - 17500000 * D_PX_PER_UNIT, D_Y0), range=[0, 17500000], anchor="x3", tickvals=abundance_ticks,
                ticktext=[str(v) for v in abundance_ticks], ticks="outside", ticklen=11, tickwidth=2.5, showline=False, tickfont=tick,
                minor=dict(tickmode="array", tickvals=abundance_minor, ticks="outside", ticklen=6, tickcolor="black"), **axis_common),
    xaxis4=dict(domain=dom(2332.7, 3367, W), range=[-0.44, 7.46], anchor="y4", type="category", categoryorder="array", categoryarray=cultivars,
                tickangle=-45, ticks="outside", ticklen=15, tickwidth=2.5, showline=True, linecolor="black", linewidth=3,
                ticklabelstandoff=-14, tickfont=dict(family=FONT, size=34, color="black", style="italic"), **axis_common),
    xaxis5=dict(domain=dom(2332.7, 3367, W), range=[-0.44, 7.46], anchor="y5", type="category", categoryorder="array", categoryarray=cultivars, visible=False),
    xaxis6=dict(domain=dom(2332.7, 3367, W), range=[-0.44, 7.46], anchor="y6", type="category", categoryorder="array", categoryarray=cultivars, visible=False),
    yaxis4=dict(domain=ydom(1523, 1619.5), range=[0, 20], anchor="x4", tickvals=[0, 5, 10, 15, 20], ticks="outside", ticklen=14, tickwidth=2.5,
                showline=True, linecolor="black", linewidth=3, tickfont=dict(family=FONT, size=29, color="black"), **axis_common),
    yaxis5=dict(domain=ydom(1404, 1502), range=[30, 100], anchor="x5", tickvals=[30, 40, 60, 80, 100], ticktext=["\u00a0", "40", "60", "80", "100"], ticks="outside", ticklen=14, tickwidth=2.5,
                showline=True, linecolor="black", linewidth=3, tickfont=dict(family=FONT, size=29, color="black"), **axis_common),
    yaxis6=dict(domain=ydom(1286.6, 1382), range=[0, 400000], anchor="x6", tickvals=[0, 100000, 200000, 300000, 400000], ticktext=["\u00a0", "100000", "200000", "300000", "400000"], ticks="outside", ticklen=14, tickwidth=2.5,
                showline=True, linecolor="black", linewidth=3, tickfont=dict(family=FONT, size=29, color="black"), **axis_common),
)
fig.write_html("out.html", config={"displayModeBar": False}, post_script="document.body.style.margin='0';")
